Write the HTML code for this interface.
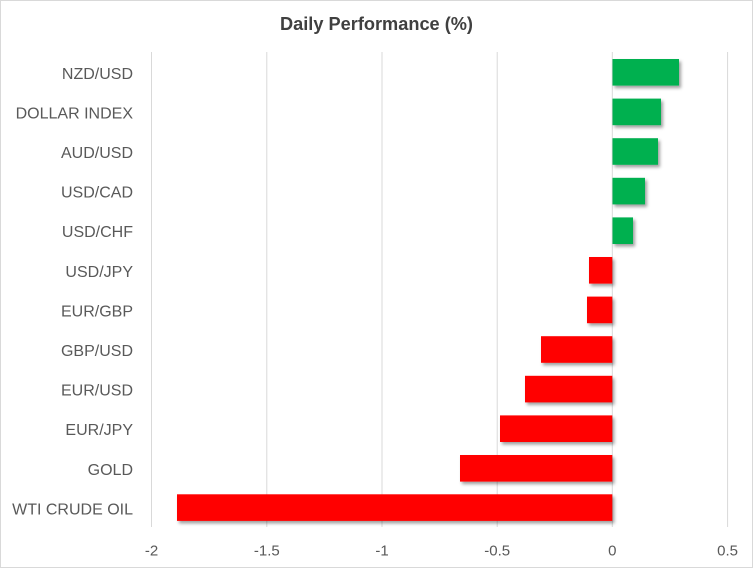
<!DOCTYPE html>
<html><head><meta charset="utf-8"><style>
html,body{margin:0;padding:0;background:#fff;}
svg{display:block;}
text{font-family:"Liberation Sans",sans-serif;}
</style></head><body>
<svg width="753" height="568" viewBox="0 0 753 568" xmlns="http://www.w3.org/2000/svg">
<defs>
<filter id="sh" x="-10%" y="-30%" width="130%" height="180%">
<feDropShadow dx="2" dy="2.5" stdDeviation="1.6" flood-color="#000" flood-opacity="0.38"/>
</filter>
</defs>
<rect x="0.5" y="0.5" width="752" height="567" fill="#fff" stroke="#d9d9d9" stroke-width="1"/>
<text x="376.5" y="30" text-anchor="middle" font-size="18" font-weight="bold" fill="#404040" textLength="193" lengthAdjust="spacingAndGlyphs">Daily Performance (%)</text>
<g stroke="#d9d9d9" stroke-width="1">
<line x1="151.5" y1="52" x2="151.5" y2="527"/>
<line x1="266.8" y1="52" x2="266.8" y2="527"/>
<line x1="382" y1="52" x2="382" y2="527"/>
<line x1="497.2" y1="52" x2="497.2" y2="527"/>
<line x1="612.3" y1="52" x2="612.3" y2="527"/>
<line x1="727.6" y1="52" x2="727.6" y2="527"/>
</g>
<g filter="url(#sh)">
<rect x="612.5" y="59" width="66.5" height="26.6" fill="#00b050"/>
<rect x="612.5" y="98.6" width="48.5" height="26.6" fill="#00b050"/>
<rect x="612.5" y="138.2" width="45.5" height="26.6" fill="#00b050"/>
<rect x="612.5" y="177.8" width="32.5" height="26.6" fill="#00b050"/>
<rect x="612.5" y="217.4" width="20.5" height="26.6" fill="#00b050"/>
<rect x="589" y="257" width="23.3" height="26.6" fill="#ff0000"/>
<rect x="587" y="296.6" width="25.3" height="26.6" fill="#ff0000"/>
<rect x="541" y="336.2" width="71.3" height="26.6" fill="#ff0000"/>
<rect x="525" y="375.8" width="87.3" height="26.6" fill="#ff0000"/>
<rect x="500" y="415.4" width="112.3" height="26.6" fill="#ff0000"/>
<rect x="460" y="455" width="152.3" height="26.6" fill="#ff0000"/>
<rect x="177" y="494.3" width="435.3" height="26.6" fill="#ff0000"/>
</g>
<g font-size="16" fill="#595959" text-anchor="end">
<text x="133" y="78.8">NZD/USD</text>
<text x="133" y="118.4">DOLLAR INDEX</text>
<text x="133" y="158">AUD/USD</text>
<text x="133" y="197.6">USD/CAD</text>
<text x="133" y="237.2">USD/CHF</text>
<text x="133" y="276.8">USD/JPY</text>
<text x="133" y="316.4">EUR/GBP</text>
<text x="133" y="356">GBP/USD</text>
<text x="133" y="395.6">EUR/USD</text>
<text x="133" y="435.2">EUR/JPY</text>
<text x="133" y="474.8">GOLD</text>
<text x="133" y="514.4">WTI CRUDE OIL</text>
</g>
<g font-size="15" fill="#595959" text-anchor="middle">
<text x="151.5" y="555.5">-2</text>
<text x="266.8" y="555.5">-1.5</text>
<text x="382" y="555.5">-1</text>
<text x="497.2" y="555.5">-0.5</text>
<text x="612.3" y="555.5">0</text>
<text x="727.6" y="555.5">0.5</text>
</g>
</svg>
</body></html>
